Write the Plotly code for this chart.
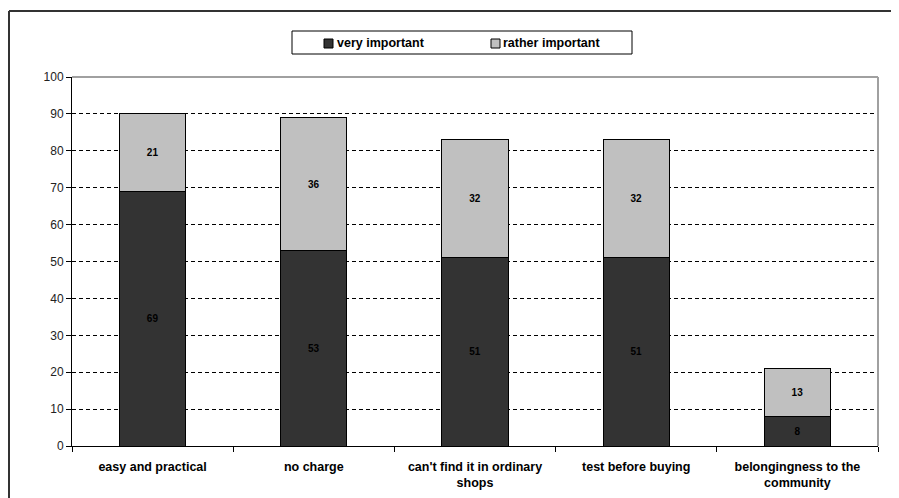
import plotly.graph_objects as go

categories = ["easy and practical", "no charge", "can't find it in ordinary<br>shops",
              "test before buying", "belongingness to the<br>community"]
series_names = ["very important", "rather important"]
very_important = [69, 53, 51, 51, 8]
rather_important = [21, 36, 32, 32, 13]
y_ticks = [0, 10, 20, 30, 40, 50, 60, 70, 80, 90, 100]
colors = ["#333333", "#c0c0c0"]

# page has an 8px body margin; figure coordinates are page - 8
OFF = 8
W, H = 899 - OFF, 498 - OFF
L, T = 72 - OFF, 77 - OFF
R = W - (878 - OFF)
B = H - (446 - OFF)
pw, ph = W - L - R, H - T - B


def px_x(x):
    return (x - OFF - L) / pw


def px_y(y):
    return (H - B - (y - OFF)) / ph


label_font = dict(family="Liberation Sans", size=10, color="#000000", weight="bold")

fig = go.Figure()
for name, vals, col in zip(series_names, [very_important, rather_important], colors):
    fig.add_trace(go.Bar(
        x=categories, y=vals, name=name,
        marker=dict(color=col, line=dict(color="#000000", width=1)),
        text=vals, textposition="inside", insidetextanchor="middle",
        textfont=label_font, textangle=0, width=0.41,
    ))

shapes = [
    # gray top and right plot borders
    dict(type="line", xref="paper", yref="paper", x0=0, x1=1, y0=1, y1=1,
         line=dict(color="#a0a0a0", width=2)),
    dict(type="line", xref="paper", yref="paper", x0=1, x1=1, y0=0, y1=1,
         line=dict(color="#a0a0a0", width=2)),
    # outer frame
    dict(type="line", xref="paper", yref="paper", x0=px_x(9), x1=px_x(910),
         y0=px_y(11), y1=px_y(11), line=dict(color="#333333", width=2)),
    dict(type="line", xref="paper", yref="paper", x0=px_x(9), x1=px_x(9),
         y0=px_y(11), y1=px_y(510), line=dict(color="#333333", width=2)),
    # legend box
    dict(type="rect", xref="paper", yref="paper", x0=px_x(292), x1=px_x(632),
         y0=px_y(54), y1=px_y(31), line=dict(color="#000000", width=1), fillcolor="white"),
]
annotations = []
legend_sq_x = [324, 491]
legend_txt_x = [335, 501]
for name, col, sx, tx in zip(series_names, colors, legend_sq_x, legend_txt_x):
    shapes.append(dict(type="rect", xref="paper", yref="paper", x0=px_x(sx), x1=px_x(sx + 9),
                       y0=px_y(48), y1=px_y(39), line=dict(color="#000000", width=1),
                       fillcolor=col))
    annotations.append(dict(xref="paper", yref="paper", x=px_x(tx), y=px_y(43.5),
                            xanchor="left", yanchor="middle", text=name, showarrow=False,
                            font=dict(family="Liberation Sans", size=12.5, color="#000000",
                                      weight="bold")))

fig.update_layout(
    width=W, height=H, barmode="stack",
    margin=dict(l=L, r=R, t=T, b=B, autoexpand=False),
    paper_bgcolor="white", plot_bgcolor="white",
    uniformtext=dict(mode="show", minsize=10),
    showlegend=False,
    xaxis=dict(
        type="category", showgrid=False, showline=True, linecolor="#000000", linewidth=1,
        ticks="outside", ticklen=5, tickcolor="#000000", tickson="boundaries",
        tickfont=dict(family="Liberation Sans", size=12.5, color="#000000", weight="bold"),
        ticklabelstandoff=9,
        range=[-0.5, 4.5],
    ),
    yaxis=dict(
        range=[0, 100], tickvals=y_ticks, showline=True, linecolor="#000000", linewidth=1,
        ticks="outside", ticklen=5, tickcolor="#000000",
        showgrid=True, gridcolor="#000000", griddash="4px,3px", gridwidth=1,
        tickfont=dict(family="Liberation Sans", size=12, color="#222222"),
        zeroline=False,
    ),
    shapes=shapes,
    annotations=annotations,
)

fig.write_html("out.html")
